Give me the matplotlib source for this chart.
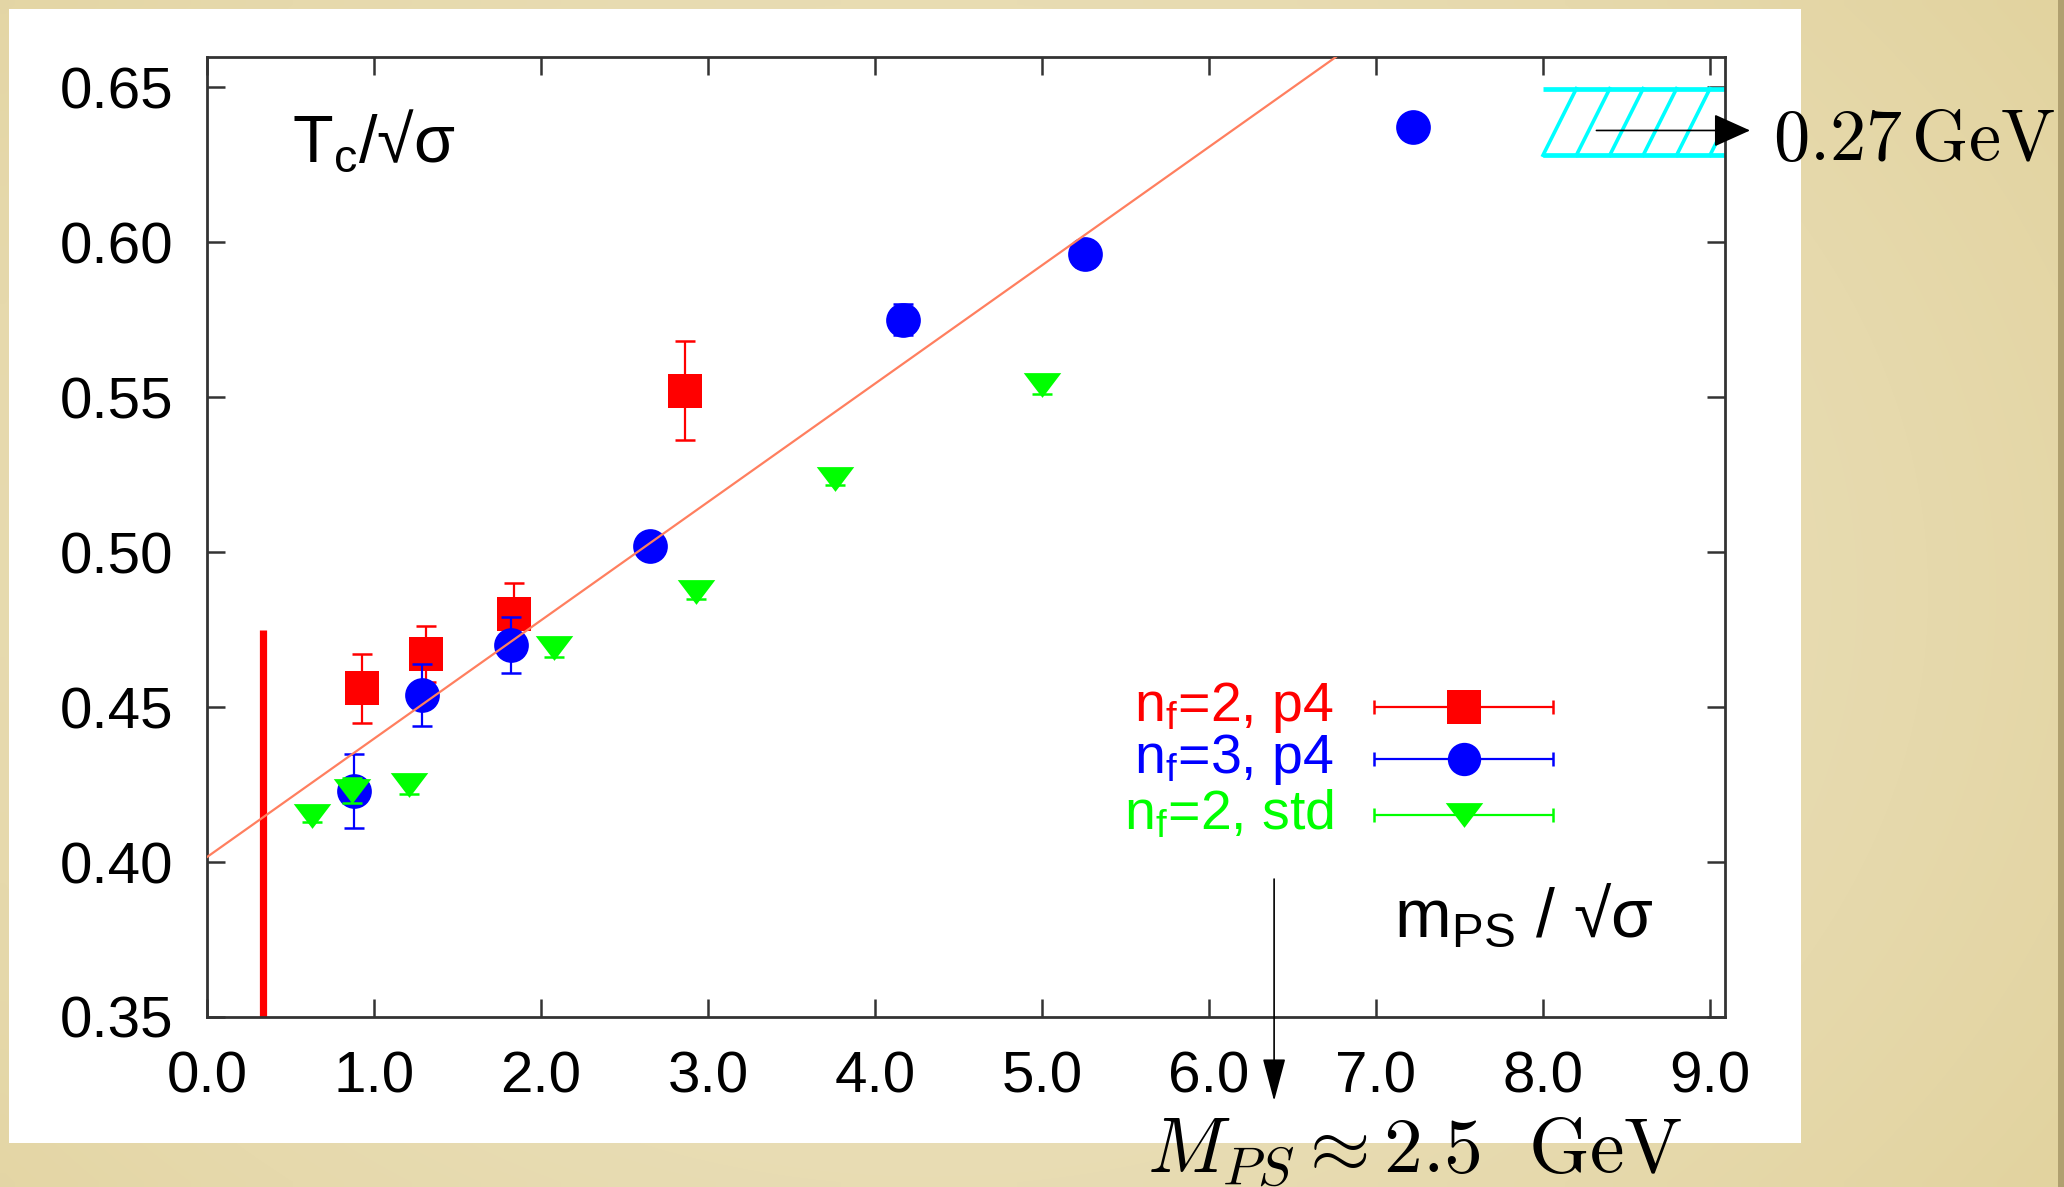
import numpy as np
import matplotlib
matplotlib.use("Agg")
import matplotlib.pyplot as plt
from matplotlib.patches import Rectangle

# ---- data ----
red_x = [0.93, 1.31, 1.84, 2.86]
red_y = [0.456, 0.467, 0.480, 0.552]
red_err = [0.011, 0.009, 0.010, 0.016]

blue_x = [0.88, 1.29, 1.82, 2.65, 4.17, 5.26, 7.22]
blue_y = [0.423, 0.454, 0.470, 0.502, 0.575, 0.596, 0.637]
blue_err = [0.012, 0.010, 0.009, 0.003, 0.005, 0.004, 0.002]

green_x = [0.63, 0.87, 1.21, 2.08, 2.93, 3.76, 5.00]
green_y = [0.415, 0.423, 0.425, 0.469, 0.487, 0.5235, 0.554]
green_err = [0.002, 0.004, 0.003, 0.003, 0.002, 0.002, 0.003]

fit_x = [0.0, 6.76]
fit_y = [0.4016, 0.6597]

cut_x = 0.335          # red vertical line
cut_top = 0.475

band_x = [8.0, 9.09]   # hatched 0.27 GeV band
band_lo, band_hi = 0.628, 0.6495
hatch_starts = [8.0, 8.2, 8.4, 8.6, 8.8, 9.0]
hatch_dx = 0.2

series_labels = ["n$_\\mathrm{f}$=2, p4", "n$_\\mathrm{f}$=3, p4", "n$_\\mathrm{f}$=2, std"]

xticks = [0, 1, 2, 3, 4, 5, 6, 7, 8, 9]
yticks = [0.35, 0.40, 0.45, 0.50, 0.55, 0.60, 0.65]

RED, BLUE, GREEN, CYAN = "#ff0000", "#0000ff", "#00ff00", "#00ffff"
TRI = [(-1, 0.66), (1, 0.66), (0, -0.66)]

plt.rcParams["font.family"] = ["Liberation Sans", "DejaVu Sans"]
plt.rcParams["mathtext.fontset"] = "custom"
plt.rcParams["mathtext.rm"] = "Liberation Sans"
plt.rcParams["mathtext.it"] = "Liberation Sans:italic"
plt.rcParams["mathtext.bf"] = "Liberation Sans:bold"

W, H = 2064, 1187
fig = plt.figure(figsize=(W / 200, H / 200), dpi=200)

# ---- slide background ----
bg = fig.add_axes([0, 0, 1, 1], zorder=-1)
gy, gx = np.mgrid[0:1:120j, 0:1:200j]
r = np.sqrt(((gx - 0.45) / 0.75) ** 2 + ((gy - 0.5) / 1.0) ** 2)
t = np.clip(r, 0, 1) ** 1.6
light = np.array([236, 226, 192]) / 255
dark = np.array([224, 208, 152]) / 255
img = light + (dark - light) * t[..., None]
bg.imshow(img, extent=[0, W, H, 0], aspect="auto", interpolation="bilinear")
bg.add_patch(Rectangle((2058, 0), 6, H, color="#b0a070", lw=0))
bg.add_patch(Rectangle((9, 9), 1801 - 9, 1143 - 9, color="white", lw=0))
bg.set_xlim(0, W)
bg.set_ylim(H, 0)
bg.axis("off")

# ---- main plot ----
ax = fig.add_axes([207 / W, 1 - 1017 / H, (1725 - 207) / W, (1017 - 57) / H], zorder=2)
ax.set_facecolor("none")

ax.plot([cut_x, cut_x], [0.35, cut_top], color=RED, lw=2.6, solid_capstyle="butt", zorder=2)

series = [
    (red_x, red_y, red_err, "s", RED, 12.5, 3),
    (blue_x, blue_y, blue_err, "o", BLUE, 12.5, 4),
    (green_x, green_y, green_err, TRI, GREEN, 13.5, 5),
]
for xs, ys, es, mk, col, ms, z in series:
    ax.plot(xs, ys, ls="none", marker=mk, color=col, ms=ms, mew=0, zorder=z)
    ax.errorbar(xs, ys, yerr=es, fmt="none", ecolor=col, elinewidth=0.8,
                capsize=3.6, capthick=0.9, zorder=z)

ax.plot(fit_x, fit_y, color="#ff7f5f", lw=0.8, zorder=6)

# hatched band + arrow to 0.27 GeV
ax.hlines([band_lo, band_hi], band_x[0], band_x[1], color=CYAN, lw=1.7, zorder=2)
for x0 in hatch_starts:
    ax.plot([x0, x0 + hatch_dx], [band_lo, band_hi], color=CYAN, lw=1.3, zorder=2)
ax.annotate("", xy=(9.24, 0.636), xytext=(8.32, 0.636), annotation_clip=False,
            arrowprops=dict(arrowstyle="-|>,head_length=0.4,head_width=0.18",
                            mutation_scale=29, color="black", lw=0.6,
                            shrinkA=0, shrinkB=0), zorder=7)
ax.text(9.38, 0.6264, r"$0.27\,\mathrm{GeV}$", math_fontfamily="cm", fontsize=26,
        ha="left", va="baseline", clip_on=False)

# arrow down to M_PS
ax.annotate("", xy=(6.39, 0.3229), xytext=(6.39, 0.3945), annotation_clip=False,
            arrowprops=dict(arrowstyle="-|>,head_length=0.45,head_width=0.12",
                            mutation_scale=30, color="black", lw=0.6,
                            shrinkA=0, shrinkB=0), zorder=7)
ax.text(5.63, 0.2997, r"$M_{PS}\approx 2.5\ \ \mathrm{GeV}$", math_fontfamily="cm",
        fontsize=28, ha="left", va="baseline", clip_on=False)

# in-plot labels
ax.text(0.51, 0.626, "T$_\\mathrm{c}$/√σ", fontsize=24, ha="left", va="baseline")
ax.text(7.11, 0.3758, "m$_\\mathrm{PS}$ / √σ", fontsize=24.5, ha="left", va="baseline")

# legend drawn gnuplot-style
leg_rows = [0.450, 0.4332, 0.4152]
leg_fmt = [("s", RED, 12.5), ("o", BLUE, 12), (TRI, GREEN, 13.5)]
for lab, row, (mk, col, ms) in zip(series_labels, leg_rows, leg_fmt):
    ax.errorbar([7.53], [row], xerr=[[0.54], [0.53]], fmt="none", ecolor=col,
                elinewidth=0.8, capsize=2.4, capthick=0.9, zorder=5)
    ax.plot([7.53], [row], ls="none", marker=mk, color=col, ms=ms, mew=0, zorder=5)
    ax.text(6.75, row - 0.0045, lab, color=col, fontsize=20, ha="right", va="baseline")

ax.set_xlim(0, 9.09)
ax.set_ylim(0.35, 0.6597)
ax.set_xticks(xticks)
ax.set_yticks(yticks)
ax.set_xticklabels([f"{v:.1f}" for v in xticks])
ax.set_yticklabels([f"{v:.2f}" for v in yticks])
ax.tick_params(direction="in", length=6.5, width=0.9, color="#333333",
               labelsize=21, top=True, right=True, pad=12)
for s in ax.spines.values():
    s.set_linewidth(1.0)
    s.set_color("#333333")

fig.savefig("out.png", dpi=200)
